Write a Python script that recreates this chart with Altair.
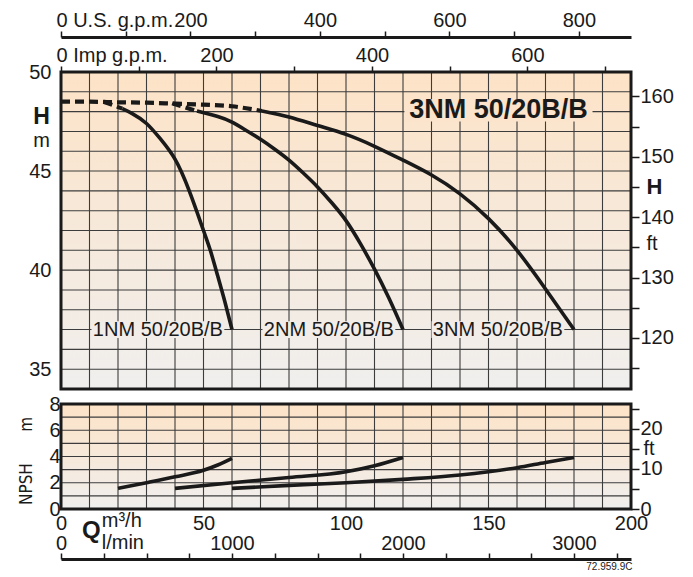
import altair as alt
import pandas as pd

# ---------------- data ----------------
# Head curves: Q in m3/h, H in m
q_1nm = [21.5, 25, 30, 35, 40, 45, 50, 52.5, 55, 57.5, 60]
h_1nm = [48.15, 47.9, 47.4, 46.6, 45.6, 44.0, 42.0, 40.95, 39.7, 38.4, 37.0]
q_2nm = [47.7, 55, 60, 65, 70, 75, 80, 85, 90, 95, 100, 105, 110, 115, 120]
h_2nm = [48.03, 47.75, 47.47, 47.05, 46.6, 46.1, 45.55, 44.9, 44.2, 43.4, 42.5, 41.35, 40.05, 38.6, 37.0]
q_3nm = [70.5, 80, 90, 100, 110, 120, 130, 140, 150, 160, 170, 180]
h_3nm = [48.03, 47.73, 47.3, 46.85, 46.25, 45.55, 44.8, 43.85, 42.6, 41.0, 39.05, 37.0]
# dashed extension toward shut-off
q_dash = [0, 10, 20, 30, 40, 50, 60, 65, 70.5]
h_dash = [48.5, 48.5, 48.47, 48.45, 48.4, 48.35, 48.27, 48.17, 48.03]
q_dash_1 = [15, 21.5]
h_dash_1 = [48.5, 48.15]
q_dash_2 = [39, 47.7]
h_dash_2 = [48.42, 48.03]
# NPSH curves: Q in m3/h, NPSH in m
q_n1 = [20, 30, 40, 50, 55, 60]
n_n1 = [1.57, 2.0, 2.45, 2.95, 3.35, 3.86]
q_n2 = [40, 60, 80, 100, 110, 120]
n_n2 = [1.57, 2.0, 2.4, 2.84, 3.3, 3.93]
q_n3 = [60, 80, 100, 120, 140, 150, 160, 170, 180]
n_n3 = [1.57, 1.8, 2.0, 2.26, 2.59, 2.84, 3.15, 3.55, 3.93]

models = ["1NM 50/20B/B", "2NM 50/20B/B", "3NM 50/20B/B"]
label_q = [34, 94, 153.3]          # where each model name sits (m3/h)
label_h = 37                       # at H = 37 m

grid_q = list(range(0, 201, 10))
grid_h = list(range(34, 51))
grid_n = list(range(0, 9))

# unit conversions for the secondary axes
M_TO_FT = 3.28084
USGPM_PER_M3H = 4.40287
IMPGPM_PER_M3H = 3.66615
LMIN_PER_M3H = 1000 / 60

# ---------------- styling ----------------
W, H_MAIN, H_NPSH = 570, 317, 105
FONT = "Liberation Sans"
NARROW = "Liberation Sans Narrow, DejaVu Sans Condensed, Liberation Sans, sans-serif"
FS = 20
INK = "#1a1a1a"
GRID = "#3c3c3c"
TOP_C = "#fde3c7"
BOT_C = "#f0efee"
grad = alt.Gradient(gradient="linear",
                    stops=[alt.GradientStop(color=TOP_C, offset=0),
                           alt.GradientStop(color=BOT_C, offset=1)],
                    x1=0, x2=0, y1=0, y2=1)

q_scale = alt.Scale(domain=[0, 200], nice=False, zero=False)
h_scale = alt.Scale(domain=[34, 50], nice=False, zero=False)
n_scale = alt.Scale(domain=[0, 8], nice=False, zero=False)

h_axis = alt.Axis(values=[35, 40, 45, 50], title=None, ticks=False, domain=False,
                  grid=False, labelFontSize=FS, labelPadding=10, labelColor=INK)
n_axis = alt.Axis(values=[0, 2, 4, 6, 8], title=None, ticks=False, domain=False,
                  grid=False, labelFontSize=FS, labelPadding=1, labelColor=INK)
q_axis_bottom = alt.Axis(orient="bottom", values=[0, 50, 100, 150, 200], title=None,
                         ticks=False, domain=False, grid=False, labelFontSize=FS,
                         labelPadding=4, labelColor=INK, labelFlush=False,
                         labelOverlap=False)


def panel_base(xaxis, yaxis, ys, y_lo, y_hi, gridy):
    """background, grid and frame of one panel (all in data units)."""
    box = pd.DataFrame({"x0": [0], "x1": [200], "y0": [y_lo], "y1": [y_hi]})
    X = lambda f: alt.X(f"{f}:Q", scale=q_scale, axis=xaxis)
    Y = lambda f: alt.Y(f"{f}:Q", scale=ys, axis=yaxis)
    bg = alt.Chart(box).mark_rect(color=grad).encode(x=X("x0"), x2="x1", y=Y("y0"), y2="y1")
    vg = alt.Chart(pd.DataFrame({"q": grid_q, "y0": y_lo, "y1": y_hi})).mark_rule(
        color=GRID, strokeWidth=1.1).encode(x=X("q"), y=Y("y0"), y2="y1")
    hg = alt.Chart(pd.DataFrame({"v": gridy, "x0": 0, "x1": 200})).mark_rule(
        color=GRID, strokeWidth=1.1).encode(y=Y("v"), x=X("x0"), x2="x1")
    frame = alt.Chart(box).mark_rect(fillOpacity=0, stroke=INK, strokeWidth=3).encode(
        x=X("x0"), x2="x1", y=Y("y0"), y2="y1")
    return bg, vg, hg, frame, X, Y


def text_layer(X, Y, xv, yv, s, **mk):
    d = pd.DataFrame({"x": [xv], "y": [yv], "t": [s]})
    return alt.Chart(d).mark_text(**mk).encode(x=X("x"), y=Y("y"), text="t:N")


def curves(qs, vs, names):
    rows = []
    for q, v, nme in zip(qs, vs, names):
        rows += [{"q": a, "v": b, "s": nme} for a, b in zip(q, v)]
    return pd.DataFrame(rows)


# ---------------- main (head) panel ----------------
bg, vg, hg, frame, X, Y = panel_base(None, h_axis, h_scale, 34, 50, grid_h)

head_df = curves([q_1nm, q_2nm, q_3nm], [h_1nm, h_2nm, h_3nm], models)
head = alt.Chart(head_df).mark_line(color=INK, strokeWidth=3.6, interpolate="natural").encode(
    x=X("q"), y=Y("v"), detail="s:N")
dash_df = curves([q_dash, q_dash_1, q_dash_2], [h_dash, h_dash_1, h_dash_2], ["a", "b", "c"])
dash = alt.Chart(dash_df).mark_line(color=INK, strokeWidth=4.2, strokeDash=[9, 5],
                                    interpolate="monotone").encode(x=X("q"), y=Y("v"), detail="s:N")

# label boxes that hide the grid behind the names
lab_box = pd.DataFrame({"x0": [q - 23.3 for q in label_q], "x1": [q + 23.3 for q in label_q],
                        "y0": [label_h - 0.42] * 3, "y1": [label_h + 0.42] * 3})
lab_bg = alt.Chart(lab_box).mark_rect(color="#f2ede8").encode(x=X("x0"), x2="x1", y=Y("y0"), y2="y1")
lab_df = pd.DataFrame({"x": label_q, "y": [label_h] * 3, "t": models})
labs = alt.Chart(lab_df).mark_text(fontSize=FS, font=FONT, color=INK, baseline="middle").encode(
    x=X("x"), y=Y("y"), text="t:N")

title_box = pd.DataFrame({"x0": [120.5], "x1": [186.5], "y0": [47.5], "y1": [48.62]})
title_bg = alt.Chart(title_box).mark_rect(color="#fbe4cb").encode(x=X("x0"), x2="x1", y=Y("y0"), y2="y1")
title_txt = text_layer(X, Y, 153.5, 48.07, models[2], fontSize=27, fontWeight="bold",
                       font=FONT, color=INK, baseline="middle")
h_lbl = text_layer(X, Y, -6.8, 47.75, "H", fontSize=23, fontWeight="bold", font=FONT,
                   color=INK, baseline="middle")
m_lbl = text_layer(X, Y, -6.8, 46.5, "m", fontSize=FS, font=FONT, color=INK, baseline="middle")

layer_main = alt.layer(bg, vg, hg, dash, head, lab_bg, labs, title_bg, title_txt, h_lbl, m_lbl, frame)

is0 = "datum.value == 0"
imp_axis = alt.Axis(orient="top", values=list(range(0, 701, 100)), title=None, domain=False,
                    grid=False, tickSize=6, tickWidth=1.5, tickColor=INK, labelFontSize=FS,
                    labelPadding=1, labelColor=INK, labelFlush=False, labelOverlap=False,
                    labelExpr="datum.value == 0 ? '0 Imp g.p.m.' : (datum.value % 200 == 0 ? datum.label : '')",
                    labelAlign={"condition": {"test": is0, "value": "left"}, "value": "center"},
                    labelOffset={"condition": {"test": is0, "value": -5}, "value": 0})
us_axis = alt.Axis(orient="top", offset=35, values=list(range(0, 801, 100)), title=None,
                   domain=True, domainWidth=3, domainColor=INK, grid=False, tickSize=6,
                   tickWidth=1.5, tickColor=INK, labelFontSize=FS, labelPadding=1,
                   labelColor=INK, labelFlush=False, labelOverlap=False,
                   labelExpr="datum.value == 0 ? '0 U.S. g.p.m.' : (datum.value % 200 == 0 ? datum.label : '')",
                   labelAlign={"condition": {"test": is0, "value": "left"}, "value": "center"},
                   labelOffset={"condition": {"test": is0, "value": -5}, "value": 0})
ft_axis = alt.Axis(orient="right", values=list(range(115, 161, 5)), title=None, domain=False,
                   grid=False, tickSize=8, tickWidth=1.5, tickColor=INK, labelColor=INK,
                   labelOverlap=False,
                   labelExpr="datum.value % 10 == 0 ? datum.label : (datum.value == 145 ? 'H' : (datum.value == 135 ? 'ft' : ''))",
                   labelFontSize={"condition": {"test": "datum.value == 145", "value": 22}, "value": FS},
                   labelFontWeight={"condition": {"test": "datum.value == 145", "value": "bold"}, "value": "normal"},
                   labelPadding={"condition": {"test": "datum.value == 145 || datum.value == 135", "value": 7}, "value": 1},
                   labelOffset={"condition": {"test": "datum.value == 135", "value": -4}, "value": 0})


def ghost(xf, xdom, xaxis, yf, ydom, yaxis):
    d = pd.DataFrame({xf: xdom, yf: ydom})
    return alt.Chart(d).mark_point(opacity=0).encode(
        x=alt.X(f"{xf}:Q", scale=alt.Scale(domain=xdom, nice=False, zero=False), axis=xaxis),
        y=alt.Y(f"{yf}:Q", scale=alt.Scale(domain=ydom, nice=False, zero=False), axis=yaxis))


imp_g = ghost("imp", [0, 200 * IMPGPM_PER_M3H], imp_axis, "hh", [34, 50], None)
us_g = ghost("us", [0, 200 * USGPM_PER_M3H], us_axis, "hh", [34, 50], None)
ft_g = ghost("qq", [0, 200], None, "ft", [34 * M_TO_FT, 50 * M_TO_FT], ft_axis)

main = alt.layer(layer_main, imp_g, us_g, ft_g).resolve_scale(
    x="independent", y="independent").properties(width=W, height=H_MAIN)

# ---------------- NPSH panel ----------------
bg2, vg2, hg2, frame2, X2, Y2 = panel_base(q_axis_bottom, n_axis, n_scale, 0, 8, grid_n)
npsh_df = curves([q_n1, q_n2, q_n3], [n_n1, n_n2, n_n3], models)
npsh = alt.Chart(npsh_df).mark_line(color=INK, strokeWidth=3.6, interpolate="monotone").encode(
    x=X2("q"), y=Y2("v"), detail="s:N")
q_lbl = text_layer(X2, Y2, 10.6, -1.65, "Q", fontSize=24, fontWeight="bold", font=FONT,
                   color=INK, baseline="middle")
m3h = text_layer(X2, Y2, 14.3, -0.95, "m³/h", fontSize=FS, font=FONT, color=INK,
                 baseline="middle", align="left")
lmin = text_layer(X2, Y2, 14.3, -2.6, "l/min", fontSize=FS, font=FONT, color=INK,
                  baseline="middle", align="left")
code = text_layer(X2, Y2, 200.5, -4.45, "72.959.9C", fontSize=10, font=FONT, color=INK,
                  baseline="middle", align="right")
npsh_t = text_layer(X2, Y2, -12.0, 1.9, "NPSH", fontSize=17, font=NARROW, color=INK,
                    baseline="middle", angle=270)
npsh_m = text_layer(X2, Y2, -12.0, 6.45, "m", fontSize=17, font=NARROW, color=INK,
                    baseline="middle", angle=270)
layer_npsh = alt.layer(bg2, vg2, hg2, npsh, q_lbl, m3h, lmin, code, npsh_t, npsh_m, frame2)

lmin_axis = alt.Axis(orient="top", offset=-(H_NPSH + 50), values=list(range(0, 3251, 250)),
                     title=None, domain=True, domainWidth=3, domainColor=INK, grid=False,
                     tickSize=6, tickWidth=1.5, tickColor=INK, labelFontSize=FS,
                     labelPadding=0, labelColor=INK, labelFlush=False, labelOverlap=False,
                     labelExpr="datum.value % 1000 == 0 ? '' + datum.value : ''")
ft2_axis = alt.Axis(orient="right", values=[0, 5, 10, 15, 20, 25], title=None, domain=False,
                    grid=False, tickSize=8, tickWidth=1.5, tickColor=INK, labelColor=INK,
                    labelFontSize=FS, labelOverlap=False,
                    labelExpr="datum.value % 10 == 0 ? datum.label : (datum.value == 15 ? 'ft' : '')",
                    labelPadding={"condition": {"test": "datum.value == 15", "value": 4}, "value": 1})
lmin_g = ghost("lm", [0, 200 * LMIN_PER_M3H], lmin_axis, "nn", [0, 8], None)
ft2_g = ghost("qq", [0, 200], None, "ft2", [0, 8 * M_TO_FT], ft2_axis)

npsh_chart = alt.layer(layer_npsh, lmin_g, ft2_g).resolve_scale(
    x="independent", y="independent").properties(width=W, height=H_NPSH)

chart = alt.vconcat(main, npsh_chart, spacing=2).properties(
    padding={"left": 9, "top": 2, "right": 0, "bottom": 0}
).configure_view(strokeWidth=0).configure_axis(labelFont=FONT).configure_text(font=FONT)

chart.save("out.html", embed_options={"renderer": "svg", "actions": False})
